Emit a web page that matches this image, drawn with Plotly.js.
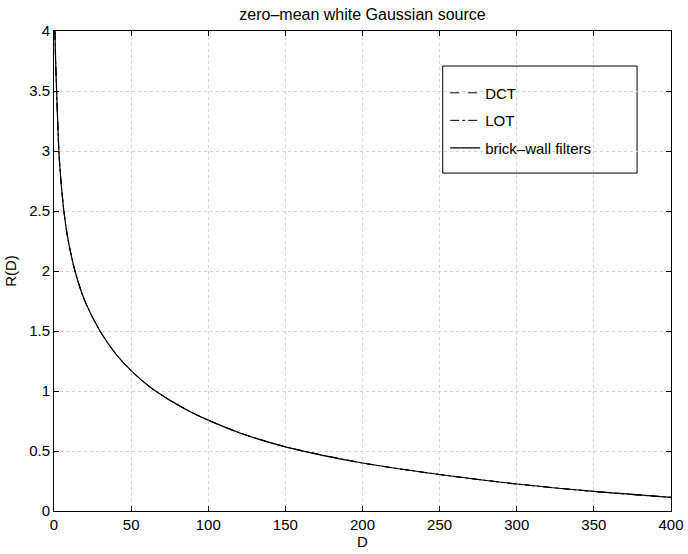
<!DOCTYPE html>
<html>
<head>
<meta charset="utf-8">
<script src="https://cdn.plot.ly/plotly-3.0.1.min.js"></script>
<style>html,body{margin:0;padding:0;background:#fff;}#chart{width:688px;height:554px;}</style>
</head>
<body>
<div id="chart"></div>
<script>
// Distortion D (x) and rate R(D) (y)
const distortion = [0.6, 1, 1.7, 3.2, 4.5, 6.5, 9, 13.6, 20, 29.8, 40, 50, 62, 75, 89, 100, 121, 150, 200, 250, 300, 350, 400];
const rateBrickWall = [4.0, 3.78, 3.5, 2.99, 2.75, 2.49, 2.27, 2.0, 1.75, 1.5, 1.31, 1.17, 1.035, 0.924, 0.823, 0.757, 0.648, 0.535, 0.40, 0.304, 0.225, 0.163, 0.114];
// DCT and LOT curves coincide with the brick-wall curve at this scale
const rateDCT = [4.0, 3.78, 3.5, 2.99, 2.75, 2.49, 2.27, 2.0, 1.75, 1.5, 1.31, 1.17, 1.035, 0.924, 0.823, 0.757, 0.648, 0.535, 0.40, 0.304, 0.225, 0.163, 0.114];
const rateLOT = [4.0, 3.78, 3.5, 2.99, 2.75, 2.49, 2.27, 2.0, 1.75, 1.5, 1.31, 1.17, 1.035, 0.924, 0.823, 0.757, 0.648, 0.535, 0.40, 0.304, 0.225, 0.163, 0.114];
const seriesNames = ["DCT", "LOT", "brick\u2013wall filters"];

const font = "Liberation Sans, Arial, Helvetica, sans-serif";
const traces = [
  {x: distortion, y: rateDCT, name: seriesNames[0], legendgroup: "a", mode: "lines",
   line: {color: "#000", width: 1, dash: "dash", shape: "spline", smoothing: 0.8}},
  {x: distortion, y: rateLOT, name: seriesNames[1], legendgroup: "b", mode: "lines",
   line: {color: "#000", width: 1, dash: "dashdot", shape: "spline", smoothing: 0.8}},
  {x: distortion, y: rateBrickWall, name: seriesNames[2], legendgroup: "c", mode: "lines",
   line: {color: "#000", width: 1.2, shape: "spline", smoothing: 0.8}}
];
const axisCommon = {
  showline: true, linecolor: "#000", linewidth: 1, mirror: "ticks",
  ticks: "inside", ticklen: 5, tickcolor: "#000",
  showgrid: true, gridcolor: "#d4d4d4", griddash: "dot", gridwidth: 1,
  zeroline: false, tickfont: {family: font, size: 15, color: "#000"}
};
const layout = {
  width: 688, height: 554,
  margin: {l: 54, r: 17, t: 31, b: 43},
  paper_bgcolor: "#fff", plot_bgcolor: "#fff",
  font: {family: font, color: "#000"},
  title: {text: "zero\u2013mean white Gaussian source", font: {family: font, size: 16, color: "#000"},
          xref: "paper", x: 0.5, xanchor: "center", yref: "container", y: 0.974, yanchor: "middle"},
  xaxis: Object.assign({}, axisCommon, {range: [0, 400], dtick: 50,
          title: {text: "D", font: {family: font, size: 15}, standoff: 2}}),
  yaxis: Object.assign({}, axisCommon, {range: [0, 4], dtick: 0.5,
          title: {text: "R(D)", font: {family: font, size: 15}, standoff: 8}}),
  showlegend: true,
  legend: {x: 0.634, y: 0.905, xanchor: "left", yanchor: "top",
           borderwidth: 0, bgcolor: "rgba(255,255,255,0)",
           font: {family: font, size: 15, color: "#000"}, tracegroupgap: 5, itemwidth: 30},
  shapes: [{type: "rect", xref: "paper", yref: "paper", x0: 0.630, x1: 0.945, y0: 0.704, y1: 0.927,
            line: {color: "#000", width: 1}, fillcolor: "#fff", layer: "below"}]
};
Plotly.newPlot("chart", traces, layout, {displayModeBar: false, staticPlot: true});
</script>
</body>
</html>
